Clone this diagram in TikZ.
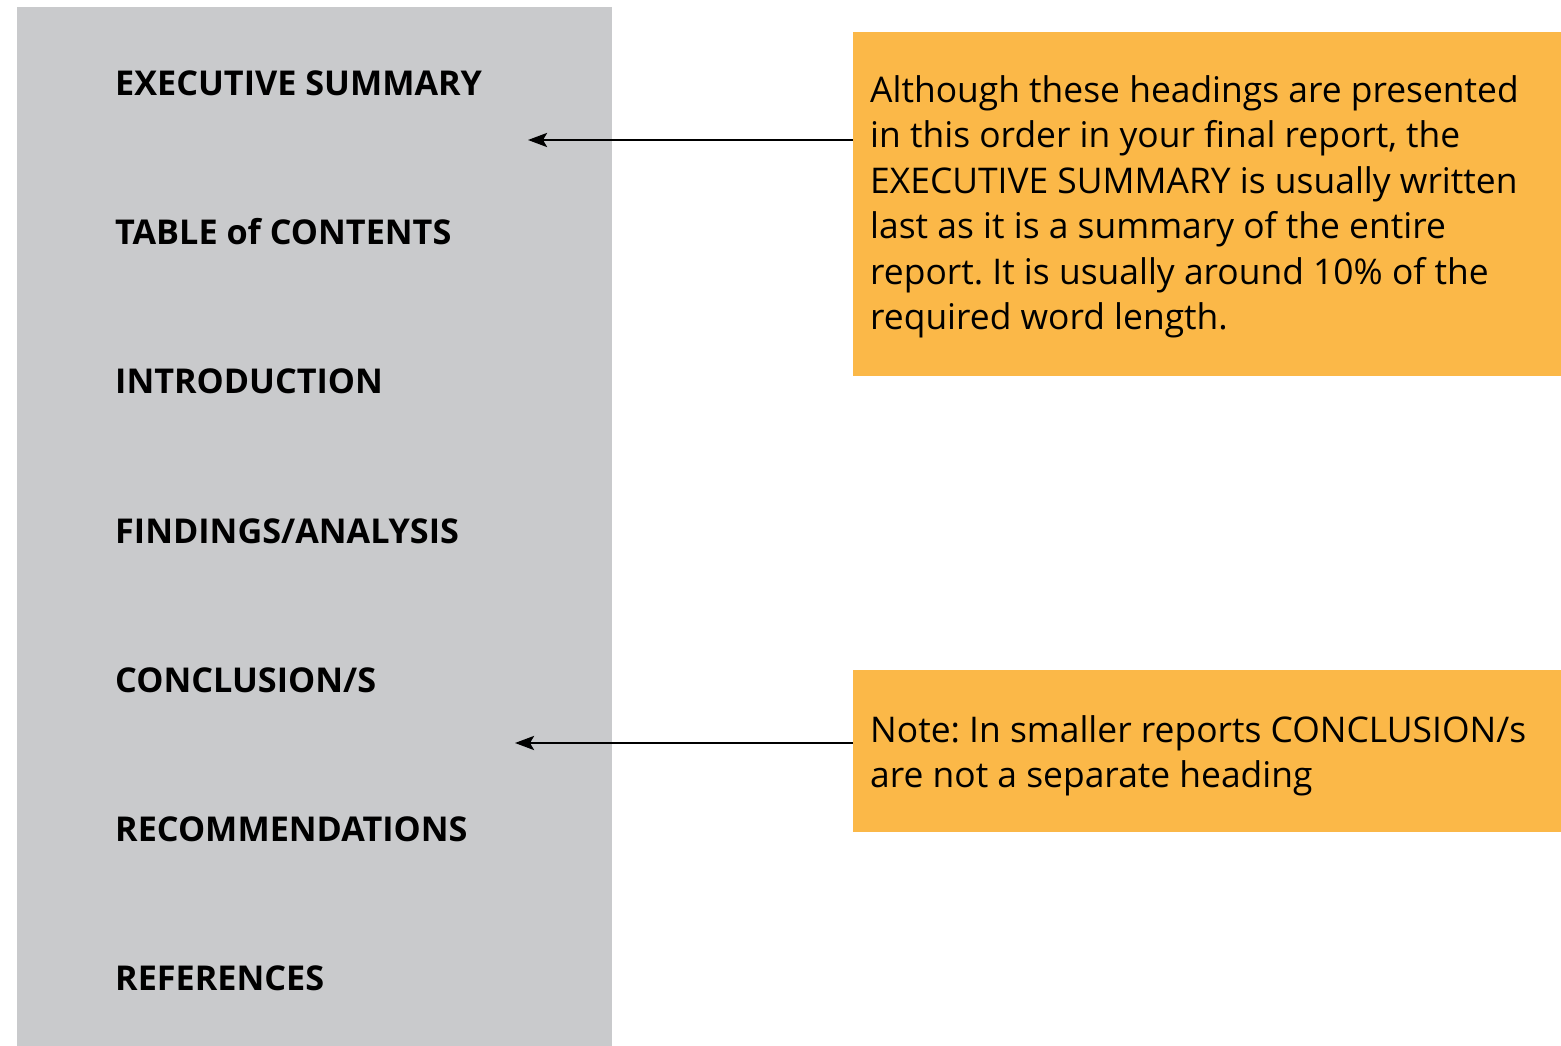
\documentclass[tikz,border=0pt]{standalone}
\usepackage{fontspec}
\setmainfont{Open Sans}
\frenchspacing
\usetikzlibrary{arrows.meta}
\definecolor{panelgray}{HTML}{C9CACC}
\definecolor{noteorange}{HTML}{FBB848}
\begin{document}
\begin{tikzpicture}[x=1pt,y=-1pt,
  heading/.style={anchor=west,inner sep=0pt,font=\bfseries\fontsize{34.2}{38}\selectfont,text=black},
  notebox/.style={fill=noteorange,draw=none,anchor=north west,inner sep=0pt},
  notetext/.style={anchor=north west,inner sep=0pt,align=left,font=\fontsize{35.4}{45.5}\selectfont,text=black},
  pointer/.style={line width=2.6pt,-{Stealth[length=19pt,width=14pt,inset=4pt]}}]
\useasboundingbox (0,0) rectangle (1561,1046);
\fill[panelgray] (17,7) rectangle (612,1046);
\node[heading] (h1) at (115,83) {EXECUTIVE SUMMARY};
\node[heading] (h2) at (115,232) {TABLE of CONTENTS};
\node[heading] (h3) at (115,381) {INTRODUCTION};
\node[heading] (h4) at (115,531) {FINDINGS/ANALYSIS};
\node[heading] (h5) at (115,680) {CONCLUSION/S};
\node[heading] (h6) at (115,829) {RECOMMENDATIONS};
\node[heading] (h7) at (115,978) {REFERENCES};
\node[notebox,minimum width=708pt,minimum height=344pt] (b1) at (853,32) {};
\node[notebox,minimum width=708pt,minimum height=162pt] (b2) at (853,670) {};
\node[notetext] (t1) at (870,75) {Although these headings are presented\\in this order in your final report, the\\EXECUTIVE SUMMARY is usually written\\last as it is a summary of the entire\\report. It is usually around 10\% of the\\required word length.};
\node[notetext] (t2) at (870,715) {Note: In smaller reports CONCLUSION/s\\are not a separate heading};
\coordinate (a1) at (528,140);
\coordinate (a2) at (515,743);
\draw[pointer] (b1.west |- a1) -- (a1);
\draw[pointer] (b2.west |- a2) -- (a2);
\end{tikzpicture}
\end{document}
